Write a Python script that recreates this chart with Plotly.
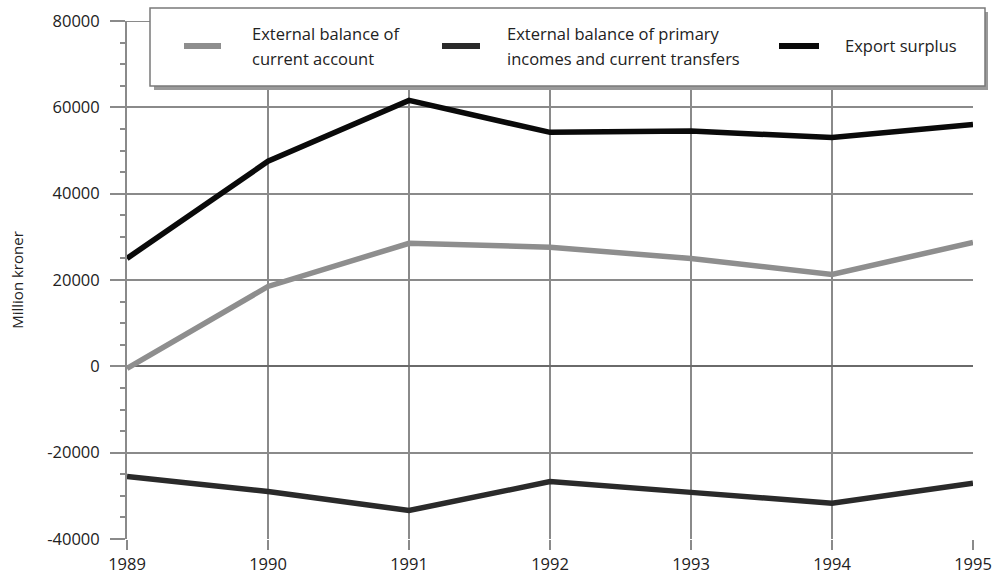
import plotly.graph_objects as go

years = [1989, 1990, 1991, 1992, 1993, 1994, 1995]
current_account = [-500, 18500, 28500, 27600, 25000, 21300, 28700]
primary_incomes = [-25500, -29000, -33400, -26700, -29200, -31700, -27100]
export_surplus = [25000, 47500, 61600, 54200, 54500, 53000, 56000]

y_ticks = [-40000, -20000, 0, 20000, 40000, 60000, 80000]
y_ticktext = [str(v) for v in y_ticks]

legend_lines = [
    ["External balance of", "current account"],
    ["External balance of primary", "incomes and current transfers"],
    ["Export surplus"],
]
legend_names = [" ".join(l) for l in legend_lines]
series = [current_account, primary_incomes, export_surplus]
colors = ["#8e8e8e", "#2a2a2a", "#0a0a0a"]

FONT = "Open Sans"
GRID = "#8a8a8a"
TEXT = "#222"

fig = go.Figure()
for vals, col, name in zip(series, colors, legend_names):
    fig.add_trace(go.Scatter(
        x=years, y=vals, mode="lines", name=name,
        line=dict(color=col, width=5.5),
        cliponaxis=False, showlegend=False,
    ))

fig.update_layout(
    width=995, height=577,
    margin=dict(l=127, r=22, t=21, b=38, autoexpand=False),
    paper_bgcolor="white", plot_bgcolor="white",
    font=dict(family=FONT, size=16, color=TEXT),
    xaxis=dict(
        range=[1989, 1995], tickvals=years, ticktext=[str(y) for y in years],
        showgrid=True, gridcolor=GRID, gridwidth=2,
        ticks="outside", ticklen=10, tickwidth=2, tickcolor=GRID,
        showline=False, zeroline=False, automargin=False,
        tickfont=dict(size=16.5),
    ),
    yaxis=dict(
        range=[-40000, 80000], tickvals=y_ticks, ticktext=y_ticktext,
        showgrid=True, gridcolor=GRID, gridwidth=2,
        zeroline=True, zerolinecolor="#6a6a6a", zerolinewidth=2,
        ticks="outside", ticklen=15, tickwidth=2, tickcolor=GRID,
        showline=True, linecolor=GRID, linewidth=2, automargin=False,
        minor=dict(dtick=5000, ticks="outside", ticklen=5, tickwidth=2,
                   tickcolor=GRID, showgrid=False),
        ticklabelstandoff=7,
        tickfont=dict(size=16.5),
        title=dict(text="Million kroner", font=dict(size=15), standoff=20),
    ),
)

# top gridline at the upper range limit
fig.add_shape(type="line", xref="paper", yref="y", x0=0, x1=1,
              y0=y_ticks[-1], y1=y_ticks[-1], line=dict(color=GRID, width=2),
              layer="below")

# Legend panel with drop shadow, placed in pixel-aligned paper coordinates
W, H = 995, 577
pw, ph = W - 127 - 22, H - 21 - 38


def px(x):
    return (x - 127) / pw


def py(y):
    return 1 - (y - 21) / ph


fig.add_shape(type="rect", xref="paper", yref="paper",
              x0=px(154), x1=px(988), y0=py(90), y1=py(12),
              fillcolor="#9a9a9a", line=dict(width=0), layer="above")
fig.add_shape(type="rect", xref="paper", yref="paper",
              x0=px(150), x1=px(985), y0=py(86), y1=py(8),
              fillcolor="white", line=dict(color="#7a7a7a", width=1.5), layer="above")

sym_x = [(184, 221), (442, 480), (779, 819)]
text_x = [250, 505, 843]
for (a, b), tx, col, lines in zip(sym_x, text_x, colors, legend_lines):
    fig.add_shape(type="line", xref="paper", yref="paper",
                  x0=px(a), x1=px(b), y0=py(46), y1=py(46),
                  line=dict(color=col, width=6), layer="above")
    if len(lines) == 1:
        ys = [45]
    else:
        ys = [34, 59]
    for line_text, ty in zip(lines, ys):
        fig.add_annotation(xref="paper", yref="paper", x=px(tx), y=py(ty),
                           text=line_text, showarrow=False, xanchor="left",
                           yanchor="middle", align="left",
                           font=dict(size=16.5, family=FONT, color=TEXT))

fig.write_html("out.html")
